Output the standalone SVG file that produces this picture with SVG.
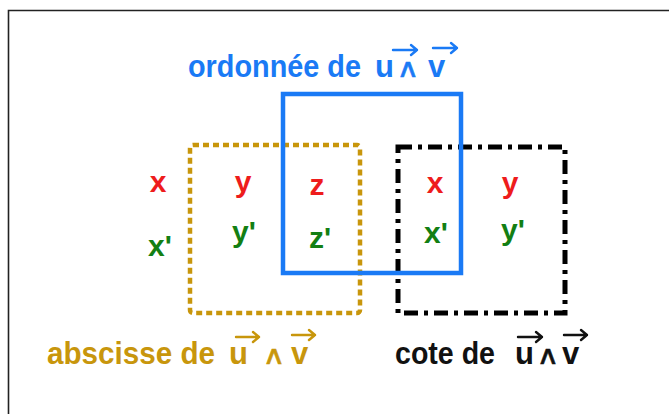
<svg xmlns="http://www.w3.org/2000/svg" width="669" height="414" viewBox="0 0 669 414">
<defs>
<style>
text{font-family:"Liberation Sans",Arial,sans-serif;font-weight:bold}
.cell{font-size:30px;text-anchor:middle}
.r{fill:#ee1c1c}.g{fill:#137f13}
.lbl{font-size:31px}
.w{font-size:26px;font-weight:normal;font-family:"DejaVu Sans",sans-serif;text-anchor:middle}
.vec{fill:none;stroke-width:2.4;stroke-linecap:round;stroke-linejoin:round}
</style>
</defs>
<rect width="669" height="414" fill="#fff"/>
<path d="M8.5,414 V10.5 H669" fill="none" stroke="#222" stroke-width="1.6"/>
<g id="abscisse">
<rect x="190" y="145" width="170" height="168" rx="3" fill="none" stroke="#c8960c" stroke-width="4.5" stroke-dasharray="6 4"/>
</g>
<g id="cote">
<rect x="398" y="147" width="167" height="166" fill="none" stroke="#000" stroke-width="5" stroke-dasharray="14 6 4 6"/>
</g>
<g id="ordonnee">
<rect x="283" y="94" width="178" height="179" fill="none" stroke="#1a7af5" stroke-width="4.5"/>
</g>
<g id="cells">
<text class="cell r" x="158" y="192">x</text>
<text class="cell r" x="243" y="192">y</text>
<text class="cell r" x="317" y="195">z</text>
<text class="cell r" x="435" y="193">x</text>
<text class="cell r" x="510" y="193">y</text>
<text class="cell g" x="160" y="256">x'</text>
<text class="cell g" x="244" y="242">y'</text>
<text class="cell g" x="320" y="248">z'</text>
<text class="cell g" x="436" y="243">x'</text>
<text class="cell g" x="513" y="240">y'</text>
</g>
<g id="label-ordonnee" fill="#1a7af5">
<text class="lbl" x="188" y="77" textLength="173" lengthAdjust="spacingAndGlyphs">ordonnée de</text>
<text class="lbl" x="375" y="77">u</text>
<text class="w" transform="translate(408,77) scale(1.2,1)" stroke="#1a7af5" stroke-width="0.5">∧</text>
<text class="lbl" x="428" y="77">v</text>
<path class="vec" stroke="#1a7af5" d="M393,50 H417 M411,45 L417,50 L411,55 M433,48 H457 M451,43 L457,48 L451,53"/>
</g>
<g id="label-abscisse" fill="#c8960c">
<text class="lbl" x="229" y="364">u</text>
<text class="lbl" x="47" y="364" textLength="168" lengthAdjust="spacingAndGlyphs">abscisse de</text>
<text class="w" transform="translate(274,364) scale(1.2,1)" stroke="#c8960c" stroke-width="0.5">∧</text>
<text class="lbl" x="291" y="364">v</text>
<path class="vec" stroke="#c8960c" d="M236,337 H259 M253,332 L259,337 L253,342 M292,335 H315 M309,330 L315,335 L309,340"/>
</g>
<g id="label-cote" fill="#111">
<text class="lbl" x="395" y="364" textLength="100" lengthAdjust="spacingAndGlyphs">cote de</text>
<text class="lbl" x="515" y="364">u</text>
<text class="w" transform="translate(548,364) scale(1.2,1)" stroke="#111" stroke-width="0.5">∧</text>
<text class="lbl" x="562" y="364">v</text>
<path class="vec" stroke="#111" d="M518,337 H542 M536,332 L542,337 L536,342 M564,335 H587 M581,330 L587,335 L581,340"/>
</g>
</svg>
